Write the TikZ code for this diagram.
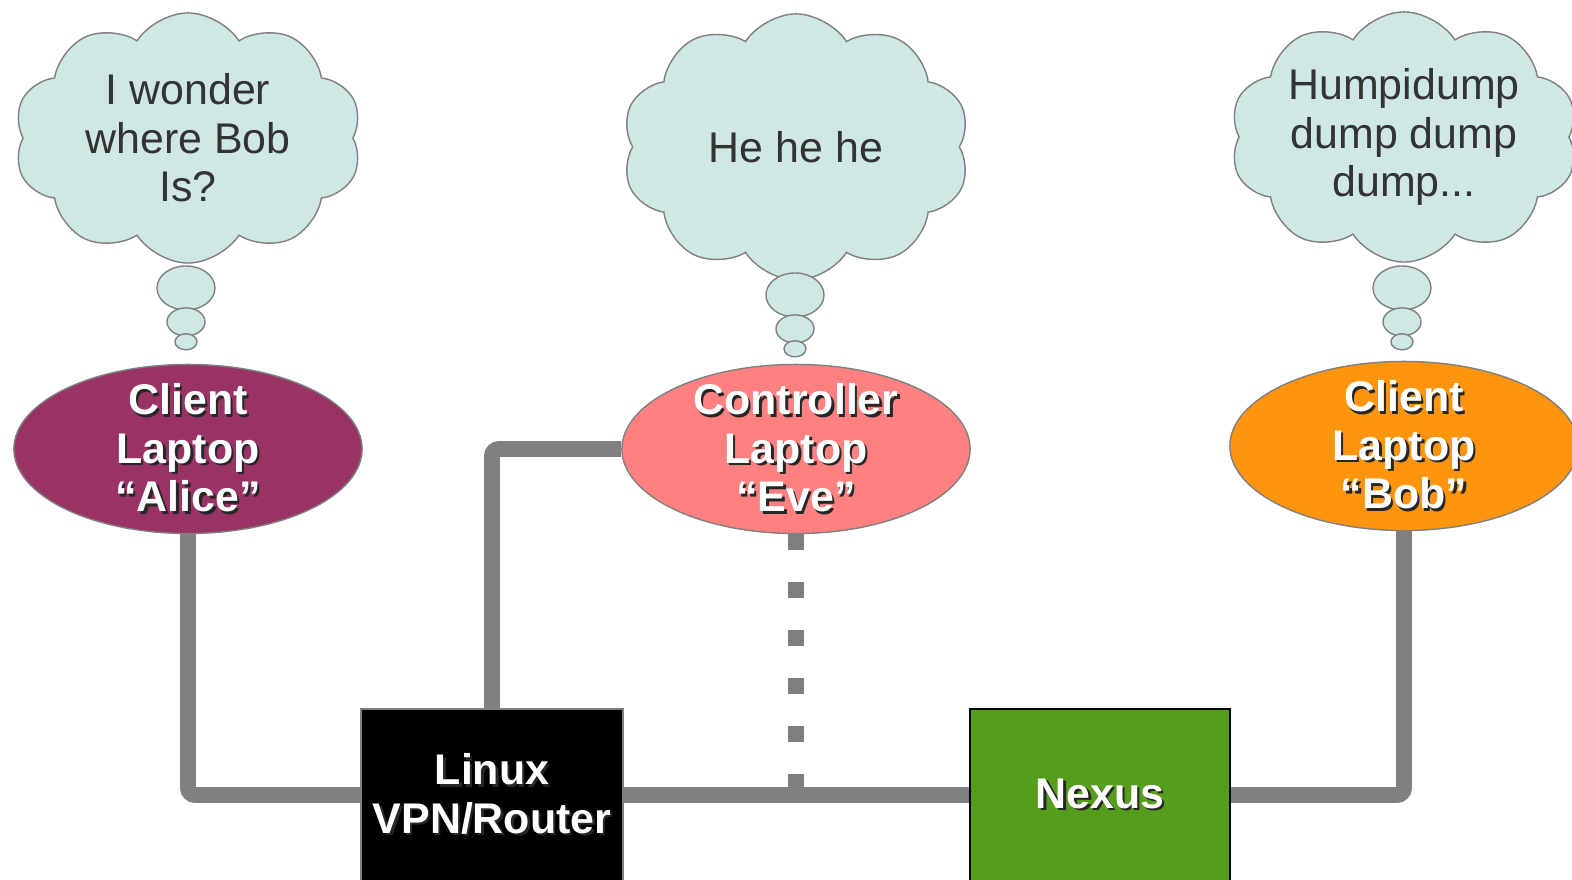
\documentclass[tikz,border=0pt]{standalone}
\usepackage{fontspec}
\setmainfont{Liberation Sans}
\usetikzlibrary{shapes,positioning,backgrounds}

\definecolor{cloudfill}{RGB}{207,231,229}
\definecolor{alicecol}{RGB}{153,51,102}
\definecolor{evecol}{RGB}{255,128,128}
\definecolor{bobcol}{RGB}{255,149,14}
\definecolor{nexuscol}{RGB}{87,157,28}
\definecolor{wirecol}{RGB}{128,128,128}
\definecolor{thinktext}{RGB}{51,51,51}

% white text with a small dark shadow
\newcommand{\shtxt}[1]{\makebox[0pt][l]{\hspace{0.7pt}\raisebox{-0.7pt}{\textcolor{black!85}{#1}}}#1}

\tikzset{
  basic/.style   = {align=center, font=\fontsize{12.2}{13.8}\selectfont},
  laptop/.style  = {basic, ellipse, draw=gray, thin, text=white,
                    font=\fontsize{12.2}{13.8}\selectfont\bfseries,
                    minimum width=3.48cm, minimum height=1.69cm,
                    inner xsep=0pt, inner ysep=-0.15cm},
  thought/.style = {basic, cloud, cloud puffs=10, cloud puff arc=115,
                    cloud ignores aspect,
                    draw=gray, thin, fill=cloudfill, text=thinktext,
                    minimum width=3.48cm, minimum height=2.5cm,
                    inner xsep=-2pt, inner ysep=-0.4cm},
  bubble/.style  = {ellipse, draw=gray, thin, fill=cloudfill, inner sep=0pt},
  device/.style  = {basic, rectangle, text=white,
                    font=\fontsize{12.2}{13.8}\selectfont\bfseries,
                    minimum width=2.6cm, minimum height=1.72cm},
  wire/.style    = {draw=wirecol, line width=4.5pt, rounded corners=2pt}
}

\begin{document}
\begin{tikzpicture}[x=0.01cm, y=-0.01cm]
\useasboundingbox (0,0) rectangle (1572,880);

% the three laptops
\node[laptop, fill=alicecol] (alice) at (188,449)
  {\shtxt{Client}\\\shtxt{Laptop}\\\shtxt{“Alice”}};
\node[laptop, fill=evecol] (eve) at (796,449)
  {\shtxt{Controller}\\\shtxt{Laptop}\\\shtxt{“Eve”}};
\node[laptop, fill=bobcol] (bob) at (1404,446)
  {\shtxt{Client}\\\shtxt{Laptop}\\\shtxt{“Bob”}};

% the two boxes at the bottom
\node[device, fill=black, draw=gray] (router) at (492,795)
  {\shtxt{Linux}\\\shtxt{VPN/Router}};
\node[device, fill=nexuscol, draw=black] (nexus) at (1100,795)
  {\shtxt{Nexus}};

% thought clouds
\node[thought] (alicethink) at (188,138) {I wonder\\where Bob\\Is?};
\node[thought, minimum height=2.66cm, inner ysep=-2pt] (evethink) at (796,147) {He he he};
\node[thought] (bobthink) at (1404,137) {Humpidump\\dump dump\\dump...};

% small bubbles between cloud and laptop
\foreach \who/\x/\y in {alice/186/288, eve/795/295, bob/1402/288} {
  \node[bubble, minimum width=0.58cm, minimum height=0.44cm] (\who b1) at (\x,\y) {};
  \node[bubble, minimum width=0.38cm, minimum height=0.28cm, below=-1pt of \who b1] (\who b2) {};
  \node[bubble, minimum width=0.22cm, minimum height=0.16cm, below=-1pt of \who b2] (\who b3) {};
}

% network wires
\begin{pgfonlayer}{background}
\draw[wire] (alice) |- (router);
\draw[wire] (router) |- (eve);
\draw[wire] (router) -- (nexus);
\draw[wire] (nexus) -| (bob);
\draw[wire, rounded corners=0pt, dash pattern=on 0.16cm off 0.32cm]
  (eve.south) -- (eve.south |- router);
\end{pgfonlayer}
\end{tikzpicture}
\end{document}
